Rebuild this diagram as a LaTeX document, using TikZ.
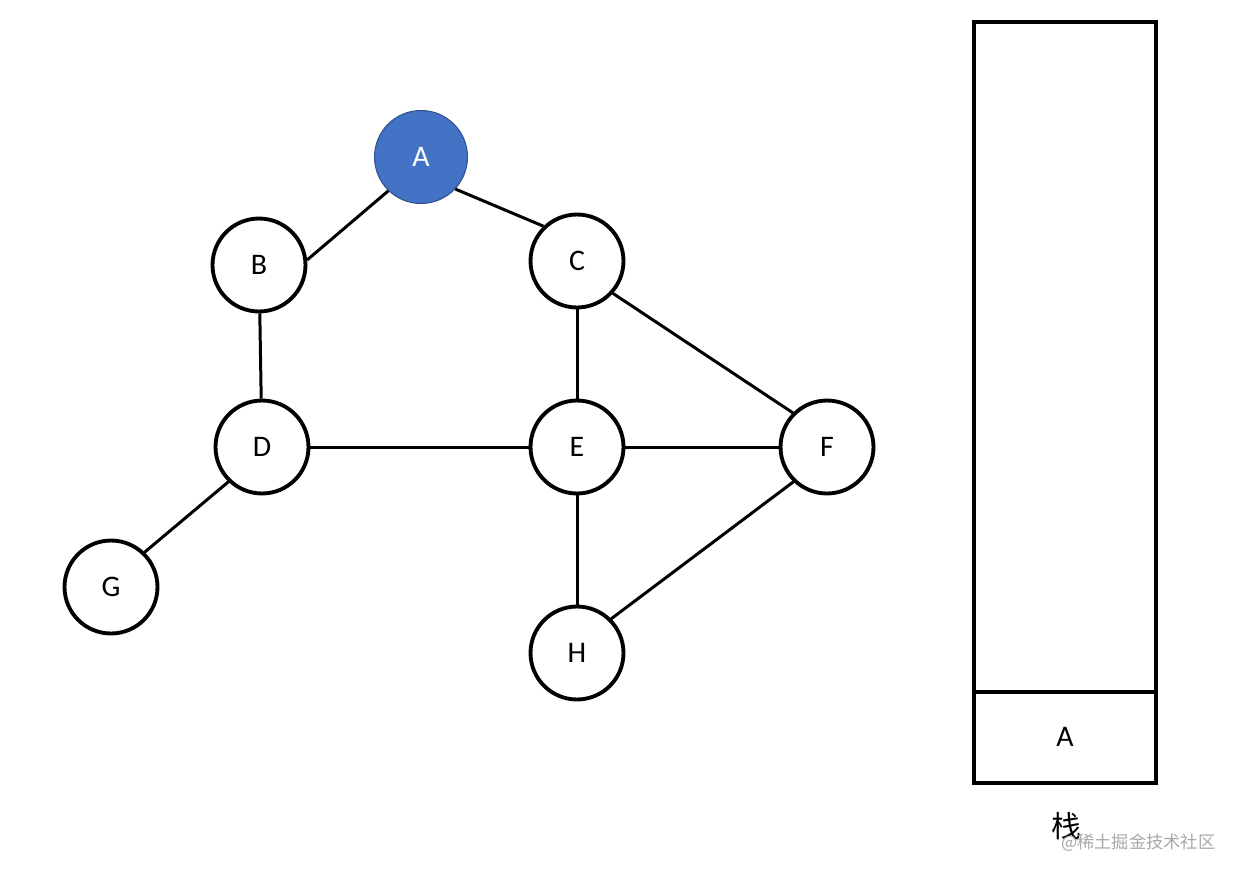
\documentclass[tikz,border=0pt]{standalone}
\usepackage{fontspec}
\setmainfont{Carlito}
\newfontfamily\cjkfont{Noto Sans CJK SC}
\definecolor{nodeblue}{HTML}{4472C4}
\definecolor{darkblue}{HTML}{2F528F}
\definecolor{marktext}{HTML}{A8A8A8}
\tikzset{
  vertex/.style={circle,draw=black,fill=white,line width=2.2pt,minimum size=1.86cm,inner sep=0pt,font=\fontsize{17}{19}\selectfont},
  visited/.style={vertex,draw=darkblue,line width=0.6pt,fill=nodeblue,text=white},
  edge/.style={draw=black,line width=1.7pt},
  stackbox/.style={draw=black,line width=2.2pt},
  stacklabel/.style={font=\cjkfont\fontsize{17}{19}\selectfont},
  watermark/.style={font=\cjkfont\fontsize{9.8}{11}\selectfont,text=marktext}
}
\begin{document}
\begin{tikzpicture}[x=0.02cm,y=-0.02cm]
\path[use as bounding box] (0,0) rectangle (1240,876);

\node[visited] (a) at (421,157) {A};
\node[vertex] (b) at (259,265) {B};
\node[vertex] (c) at (577,261) {C};
\node[vertex] (d) at (262,447) {D};
\node[vertex] (e) at (577,447) {E};
\node[vertex] (f) at (827,447) {F};
\node[vertex] (g) at (111,587) {G};
\node[vertex] (h) at (577,653) {H};
\draw[edge] (a.226)--(b.6); \draw[edge] (a.-43)--(c.134);
\draw[edge] (b)--(d); \draw[edge] (c)--(e); \draw[edge] (c.-42)--(f.135);
\draw[edge] (d)--(e); \draw[edge] (e)--(f);
\draw[edge] (d.226)--(g.46); \draw[edge] (e)--(h); \draw[edge] (f.226)--(h.45);

\node[stackbox,minimum width=3.64cm,minimum height=15.22cm,anchor=north west,inner sep=0pt] (stack) at (972,20) {};
\node[stackbox,minimum width=3.64cm,minimum height=1.82cm,anchor=south west,inner sep=0pt,font=\fontsize{17}{19}\selectfont] (sa) at (stack.south west) {A};
\node[stacklabel] (name) at (1066,826) {栈};
\node[watermark,anchor=west] (wm) at (1055,843) {@稀土掘金技术社区};
\end{tikzpicture}
\end{document}
